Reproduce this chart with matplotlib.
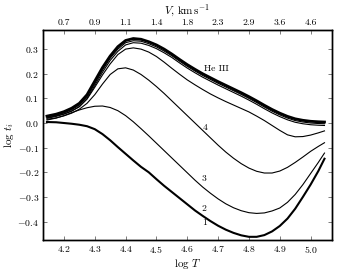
import matplotlib
matplotlib.use('Agg')
import matplotlib.pyplot as plt

plt.rcParams['font.family'] = 'serif'
plt.rcParams['font.serif'] = ['cmr10']
plt.rcParams['mathtext.fontset'] = 'cm'
plt.rcParams['axes.formatter.use_mathtext'] = True
plt.rcParams['font.size'] = 8

# --- datos ---
log_t = [4.145, 4.175, 4.2, 4.225, 4.25, 4.275, 4.3, 4.325, 4.35, 4.375,
         4.4, 4.425, 4.45, 4.475, 4.5, 4.525, 4.55, 4.575, 4.6, 4.625,
         4.65, 4.675, 4.7, 4.725, 4.75, 4.775, 4.8, 4.825, 4.85, 4.875,
         4.9, 4.925, 4.95, 4.975, 5.0, 5.025, 5.045]

he3 = [0.028, 0.036, 0.046, 0.06, 0.08, 0.115, 0.17, 0.225, 0.272, 0.31,
       0.335, 0.343, 0.34, 0.33, 0.317, 0.3, 0.28, 0.258, 0.237, 0.218,
       0.2, 0.184, 0.168, 0.153, 0.138, 0.123, 0.107, 0.09, 0.072, 0.055,
       0.04, 0.027, 0.017, 0.011, 0.007, 0.005, 0.004]
thin_a = [0.024, 0.032, 0.041, 0.054, 0.073, 0.107, 0.16, 0.215, 0.263, 0.3,
          0.326, 0.334, 0.332, 0.322, 0.309, 0.292, 0.273, 0.251, 0.23, 0.211,
          0.193, 0.177, 0.161, 0.146, 0.131, 0.116, 0.1, 0.083, 0.065, 0.048,
          0.033, 0.02, 0.01, 0.004, 0.0, -0.002, -0.003]
thin_b = [0.021, 0.029, 0.037, 0.049, 0.067, 0.1, 0.152, 0.206, 0.254, 0.291,
          0.317, 0.326, 0.324, 0.315, 0.302, 0.285, 0.266, 0.244, 0.223, 0.204,
          0.186, 0.17, 0.154, 0.139, 0.124, 0.109, 0.093, 0.076, 0.058, 0.041,
          0.026, 0.013, 0.003, -0.003, -0.007, -0.009, -0.01]
c5 = [0.019, 0.027, 0.036, 0.048, 0.066, 0.097, 0.145, 0.195, 0.24, 0.278,
      0.3, 0.305, 0.3, 0.288, 0.27, 0.247, 0.222, 0.198, 0.175, 0.155,
      0.136, 0.118, 0.102, 0.087, 0.073, 0.059, 0.045, 0.028, 0.01, -0.01,
      -0.03, -0.048, -0.056, -0.055, -0.049, -0.04, -0.032]
c4 = [0.015, 0.021, 0.029, 0.04, 0.056, 0.08, 0.115, 0.158, 0.197, 0.22,
      0.224, 0.215, 0.197, 0.174, 0.148, 0.12, 0.09, 0.06, 0.03, 0.0,
      -0.03, -0.06, -0.09, -0.118, -0.143, -0.165, -0.183, -0.196, -0.203, -0.203,
      -0.195, -0.18, -0.16, -0.138, -0.115, -0.095, -0.08]
c3 = [0.012, 0.02, 0.03, 0.042, 0.053, 0.062, 0.068, 0.069, 0.063, 0.05,
      0.03, 0.005, -0.023, -0.052, -0.082, -0.112, -0.142, -0.172, -0.202, -0.232,
      -0.26, -0.285, -0.308, -0.328, -0.344, -0.356, -0.364, -0.367, -0.365, -0.357,
      -0.345, -0.322, -0.29, -0.25, -0.205, -0.16, -0.122]
c1 = [0.004, 0.003, 0.0, -0.003, -0.007, -0.013, -0.025, -0.045, -0.07, -0.098,
      -0.125, -0.152, -0.178, -0.2, -0.228, -0.255, -0.28, -0.305, -0.33, -0.355,
      -0.377, -0.398, -0.417, -0.433, -0.446, -0.456, -0.462, -0.462, -0.455, -0.44,
      -0.418, -0.388, -0.348, -0.3, -0.25, -0.195, -0.145]

xticks = [4.2, 4.3, 4.4, 4.5, 4.6, 4.7, 4.8, 4.9, 5.0]
v_labels = ['0.7', '0.9', '1.1', '1.4', '1.8', '2.3', '2.9', '3.6', '4.6']
yticks = [-0.4, -0.3, -0.2, -0.1, 0.0, 0.1, 0.2, 0.3]

etiquetas = [('He III', 4.695, 0.222), ('4', 4.658, -0.02), ('3', 4.655, -0.228),
             ('2', 4.655, -0.35), ('1', 4.655, -0.407)]

fig = plt.figure(figsize=(3.38, 2.74), dpi=100)
ax = fig.add_axes([0.128, 0.124, 0.853, 0.766])

for y in [thin_a, thin_b, c5, c4, c3]:
    ax.plot(log_t, y, color='black', lw=0.8)
ax.plot(log_t, he3, color='black', lw=2.0)
ax.plot(log_t, c1, color='black', lw=1.5)

for txt, x, y in etiquetas:
    ax.text(x, y, txt, ha='center', va='center', fontsize=7)

ax.set_xlim(4.133, 5.068)
ax.set_ylim(-0.475, 0.377)
ax.set_xticks(xticks)
ax.set_yticks(yticks)
ax.tick_params(direction='in', length=3, width=0.6, top=False, right=True, labelsize=7,
               color='0.4', pad=3)
ax.set_xlabel(r'$\log\,T$', labelpad=1)
ax.set_ylabel(r'$\log\,t_i$', labelpad=1)

ax2 = ax.twiny()
ax2.set_xlim(ax.get_xlim())
ax2.set_xticks(xticks)
ax2.set_xticklabels(v_labels)
ax2.tick_params(direction='in', length=3, width=0.6, labelsize=7, color='0.4', pad=2)
ax2.set_xlabel(r'$V,\,\mathrm{km\,s^{-1}}$', labelpad=3)

for a in (ax, ax2):
    for s in a.spines.values():
        s.set_linewidth(1.0)

fig.savefig('out.png', dpi=100)
